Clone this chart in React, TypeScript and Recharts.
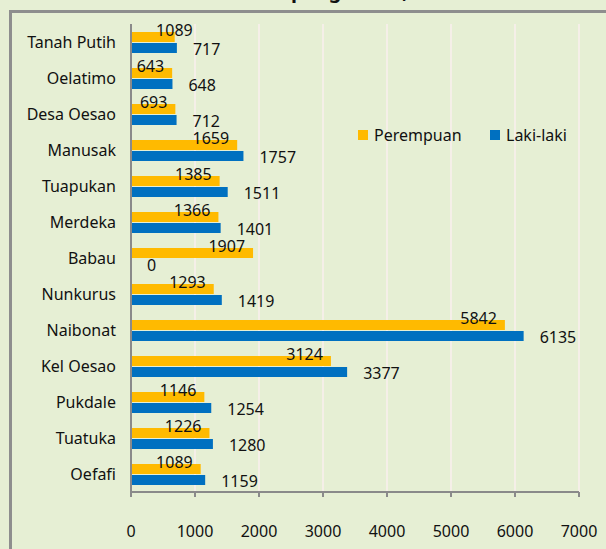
import { Bar, BarChart, CartesianGrid, LabelList, Legend, XAxis, YAxis } from "recharts";

const desa = [
  "Tanah Putih",
  "Oelatimo",
  "Desa Oesao",
  "Manusak",
  "Tuapukan",
  "Merdeka",
  "Babau",
  "Nunkurus",
  "Naibonat",
  "Kel Oesao",
  "Pukdale",
  "Tuatuka",
  "Oefafi",
];
// bar lengths as drawn (Tanah Putih's orange bar is shorter than its printed label)
const perempuan = [683, 643, 693, 1659, 1385, 1366, 1907, 1293, 5842, 3124, 1146, 1226, 1089];
const perempuanLabel = [1089, 643, 693, 1659, 1385, 1366, 1907, 1293, 5842, 3124, 1146, 1226, 1089];
const lakiLaki = [717, 648, 712, 1757, 1511, 1401, 0, 1419, 6135, 3377, 1254, 1280, 1159];
const xTicks = [0, 1000, 2000, 3000, 4000, 5000, 6000, 7000];
const legendOrder = ["perempuan", "lakiLaki"];

const rows = desa.map((name, i) => ({
  name,
  perempuan: perempuan[i],
  lakiLaki: lakiLaki[i],
}));

const FONT = "'Noto Sans', sans-serif";
const BG = "#E6EFD4";
const ORANGE = "#FFBA00";
const BLUE = "#0070C0";
const AXIS = "#8A8A8A";

function OrangeLabel(props: any) {
  const { x, y, width, index } = props;
  const label = perempuanLabel[index];
  const v = perempuan[index];
  // place the text against the printed value, not the drawn bar
  const end = v ? x + (width * label) / v : x + width;
  return (
    <text x={end - 8} y={y + 4} textAnchor="end" fontSize={16} fontFamily={FONT} fill="#111">
      {label}
    </text>
  );
}

function BlueLabel(props: any) {
  const { x, y, width, height, index } = props;
  return (
    <text x={x + width + 16} y={y + height / 2 + 7} textAnchor="start" fontSize={16} fontFamily={FONT} fill="#111">
      {lakiLaki[index]}
    </text>
  );
}

function LegendBox({ payload }: any) {
  const items = [...(payload || [])].sort(
    (a: any, b: any) => legendOrder.indexOf(a.dataKey) - legendOrder.indexOf(b.dataKey)
  );
  return (
    <div style={{ display: "flex", fontFamily: FONT, fontSize: 16, lineHeight: "16px", color: "#111" }}>
      {items.map((p: any, i: number) => (
        <div key={p.value} style={{ display: "flex", alignItems: "center", width: i === 0 ? 132 : "auto" }}>
          <span style={{ width: 10, height: 10, background: p.color, marginRight: 6, display: "inline-block" }} />
          <span>{p.value}</span>
        </div>
      ))}
    </div>
  );
}

export default function App() {
  return (
    <div
      style={{
        position: "absolute",
        left: 0,
        top: 0,
        width: 606,
        height: 549,
        background: BG,
        overflow: "hidden",
      }}
    >
      <div
        style={{
          position: "absolute",
          top: -19,
          left: 0,
          width: 606,
          textAlign: "center",
          fontFamily: FONT,
          fontWeight: 700,
          fontSize: 20,
          lineHeight: "20px",
          color: "#111",
          whiteSpace: "nowrap",
        }}
      >
        Kecamatan Kupang Timur, 2019
      </div>
      <div
        style={{
          position: "absolute",
          left: 9,
          top: 10,
          width: 700,
          height: 700,
          border: "3px solid #8E8E8E",
        }}
      />
      <div style={{ position: "absolute", left: 0, top: 0 }}>
        <BarChart
          width={606}
          height={549}
          data={rows}
          layout="vertical"
          margin={{ top: 24, right: 27, bottom: 0, left: 0 }}
          barSize={10}
          barGap={1}
        >
          <CartesianGrid horizontal={false} stroke="#F5EFE8" strokeWidth={2} />
          <XAxis
            type="number"
            domain={[0, 7000]}
            ticks={xTicks}
            height={57}
            axisLine={{ stroke: AXIS, strokeWidth: 2 }}
            tickLine={{ stroke: AXIS, strokeWidth: 2 }}
            tickSize={5}
            tickMargin={29}
            tick={{ fill: "#111", fontSize: 16, fontFamily: FONT }}
          />
          <YAxis
            type="category"
            dataKey="name"
            width={131}
            axisLine={{ stroke: AXIS, strokeWidth: 2 }}
            tickLine={false}
            tickSize={0}
            tickMargin={15}
            interval={0}
            tick={{ fill: "#111", fontSize: 16, fontFamily: FONT }}
          />
          <Legend
            layout="horizontal"
            verticalAlign="middle"
            align="center"
            wrapperStyle={{ top: 127, left: 358, width: "auto" }}
            content={<LegendBox />}
          />
          <Bar dataKey="perempuan" name="Perempuan" fill={ORANGE} isAnimationActive={false}>
            <LabelList dataKey="perempuan" content={<OrangeLabel />} />
          </Bar>
          <Bar dataKey="lakiLaki" name="Laki-laki" fill={BLUE} minPointSize={0.01} isAnimationActive={false}>
            <LabelList dataKey="lakiLaki" content={<BlueLabel />} />
          </Bar>
        </BarChart>
      </div>
    </div>
  );
}
